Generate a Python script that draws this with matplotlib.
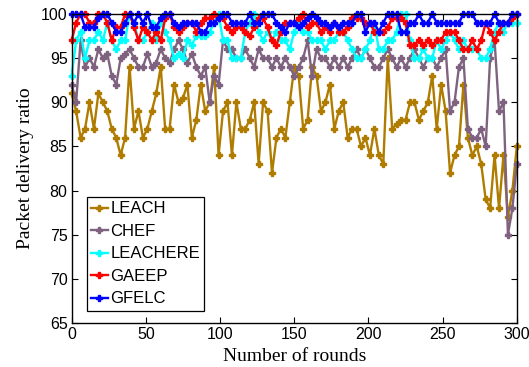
import numpy as np
import matplotlib
matplotlib.use("Agg")
import matplotlib.pyplot as plt

# Rounds sampled every 3 rounds from 0 to 300
rounds = list(range(0, 301, 3))

leach = [91, 89, 86, 87, 90, 87, 91, 90, 89, 87, 86, 84, 86, 94, 87, 89, 86,
         87, 89, 91, 94, 87, 87, 92, 90, 90.5, 92, 86, 88, 92, 89, 90, 94, 84, 89,
         90, 84, 90, 87, 87, 88, 90, 83, 90, 89, 82, 86, 87, 86, 90, 94,
         93, 87, 88, 94, 93, 89, 90, 92, 87, 89, 90, 86, 87, 87, 85, 86, 84,
         87, 84, 83, 95, 87, 87.5, 88, 88, 90, 90, 88, 89, 90, 93, 87, 92, 89,
         82, 84, 85, 92, 86, 84, 85, 83, 79, 78, 84, 78, 84, 77, 80, 85]

chef = [92, 90, 97, 94, 95, 94, 96, 95, 95.5, 93, 92, 95, 95.5, 96, 95, 94, 94,
        95.5, 94, 94.5, 96, 95, 94.5, 96, 97, 96, 94.5, 95.5, 94, 93, 94, 90, 93, 92, 97,
        96, 96, 95, 95, 96, 95, 94, 96, 95, 95, 94, 95, 94, 95, 94, 93,
        94, 95, 97, 93, 96, 95, 95, 94, 95, 94, 95, 94, 95, 96, 95, 96, 95,
        94, 94, 95, 96, 95, 94, 95, 94, 95, 96, 95, 94, 95, 95, 94, 95, 96,
        89, 90, 94, 95, 87, 86, 86, 87, 85, 95, 97, 89, 90, 75, 78, 83]

leachere = [93, 97, 98, 95, 97, 97, 98, 97, 99, 97, 96, 97, 97, 100, 99, 97, 97,
            98, 99, 97, 99, 98, 97, 95, 95.5, 95, 97, 96.5, 97.5, 97.5, 97.5, 98, 99, 100, 97,
            97, 95, 95, 95, 98, 99, 100, 98, 97, 98, 97, 98, 97, 97, 96, 98,
            99, 98, 98, 97, 97, 97, 96, 97, 97, 98, 98, 97, 96, 95, 95, 96, 97,
            99, 96, 96, 97, 97, 98, 100, 100, 97, 95, 95, 96, 95, 95, 97, 96, 97,
            98, 97, 96, 97, 96, 96, 96, 95, 95, 96, 98, 99, 98, 99, 99, 99]

gaeep = [97, 99, 100, 100, 99, 99, 100, 100, 99, 97, 98.5, 98.5, 100, 100, 98.5, 97, 98.5,
         98, 97, 98, 97, 99.5, 100, 98.5, 98, 98.5, 99, 99, 98, 99, 99.5, 99.5, 100, 99.5, 99.5,
         98.5, 98, 98.5, 98.5, 98, 97.5, 98.5, 99.5, 99.5, 98.5, 97, 96.5, 98, 99, 99, 99,
         99.5, 100, 98.5, 99, 99, 98, 98.5, 98, 99, 98, 98, 98.5, 99.5, 99.5, 99.5, 99, 99,
         98, 98, 98, 98.5, 99.5, 99.5, 99.5, 99, 96.5, 96.5, 97, 96.5, 97, 96.5, 97, 97, 98,
         98, 98, 97, 96, 96, 97, 96, 97, 99, 98, 97, 98, 99, 99, 99.5, 100]

gfelc = [100, 100, 100, 98.5, 98.5, 98.5, 99.5, 100, 100, 99, 98, 98, 99, 100, 99, 100, 99,
         100, 98.5, 98.5, 99.5, 100, 100, 99, 98.5, 99, 99, 99, 99, 98, 98, 99, 99, 99.5, 100,
         100, 99, 99, 99, 99, 100, 99, 99, 100, 100, 100, 99, 98.5, 98, 99, 99,
         98.5, 99, 99.5, 100, 99.5, 99, 99, 98.5, 99, 98.5, 99, 99, 99, 100, 100, 98, 99,
         99, 98, 99, 100, 100, 100, 98, 98, 99, 99, 100, 99, 99, 100, 99, 99, 99,
         99, 99, 99, 100, 100, 100, 99, 99, 99, 99, 100, 99, 99, 99, 100, 100]

series = [
    ("LEACH", leach, "#b07c00"),
    ("CHEF", chef, "#7f6180"),
    ("LEACHERE", leachere, "#00ffff"),
    ("GAEEP", gaeep, "#ff0000"),
    ("GFELC", gfelc, "#0000ff"),
]

plt.rcParams["font.family"] = ["Liberation Sans", "DejaVu Sans"]

fig = plt.figure(figsize=(5.29, 3.67), dpi=100)
ax = fig.add_axes([0.1355, 0.1199, 0.8415, 0.8420])

for name, vals, col in series:
    ax.plot(rounds, vals, color=col, lw=1.7, marker="P", ms=4.2,
            mec=col, mfc=col, label=name, clip_on=False, zorder=3)

ax.set_xlim(0, 300)
ax.set_ylim(65, 100)
ax.set_xticks(range(0, 301, 50))
ax.set_yticks(range(65, 101, 5))
ax.tick_params(direction="in", top=True, right=True, length=4, width=0.8,
               labelsize=11.5, pad=3)
for sp in ax.spines.values():
    sp.set_linewidth(1.0)
    sp.set_zorder(5)

serif = ["Liberation Serif", "DejaVu Serif"]
ax.set_xlabel("Number of rounds", fontsize=14, family=serif, labelpad=4.5)
ax.set_ylabel("Packet delivery ratio", fontsize=14, family=serif, labelpad=5)

leg = ax.legend(loc="lower left", bbox_to_anchor=(0.034, 0.04), borderaxespad=0,
                fontsize=12, fancybox=False, edgecolor="black", framealpha=1,
                handlelength=1.0, handletextpad=0.15, labelspacing=0.45,
                borderpad=0.25)
leg.get_frame().set_linewidth(0.9)
leg.set_zorder(6)

fig.savefig("out.png", dpi=100)
